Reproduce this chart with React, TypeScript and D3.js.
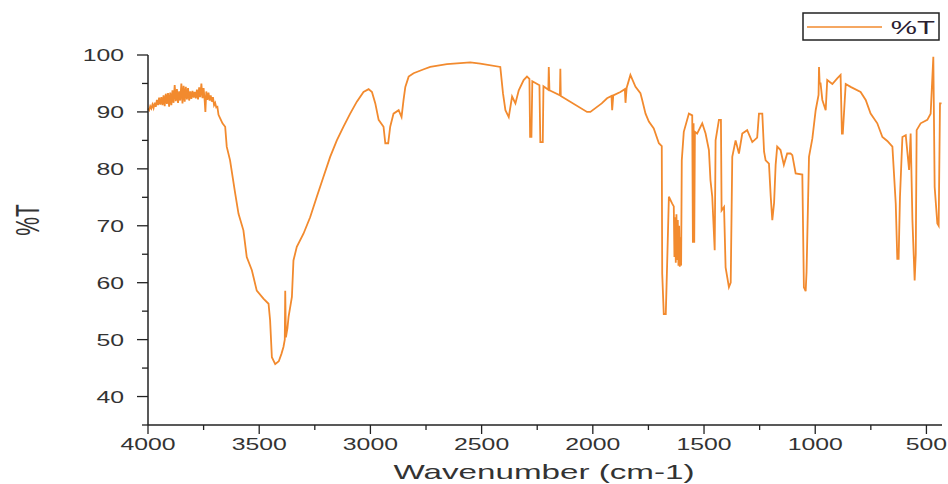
import React, { useEffect, useRef } from 'react';
import * as d3 from 'd3';

// FTIR spectrum
const wavenumbers = [
  4000, 3995, 3990, 3985, 3980, 3975, 3970, 3965, 3960, 3955, 3950, 3945, 3940, 3935, 3930, 3925,
  3920, 3915, 3910, 3905, 3900, 3895, 3890, 3885, 3880, 3875, 3870, 3865, 3860, 3855, 3850, 3845,
  3840, 3835, 3830, 3825, 3820, 3815, 3810, 3805, 3800, 3795, 3790, 3785, 3780, 3775, 3770, 3765,
  3760, 3755, 3750, 3745, 3742, 3738, 3733, 3728, 3723, 3718, 3713, 3708, 3703, 3698, 3693, 3688,
  3683, 3676, 3665, 3653,
  3646, 3631, 3608, 3593, 3571, 3556, 3533, 3511, 3481, 3458, 3451, 3443, 3428, 3412, 3400, 3391,
  3385, 3383, 3380, 3373, 3368, 3353, 3346, 3331, 3301, 3271, 3241, 3211, 3181, 3151, 3121, 3091,
  3061, 3031, 3008, 2993, 2978, 2963, 2941, 2933, 2920, 2911, 2896, 2873, 2860, 2851, 2843, 2828,
  2806, 2760, 2731, 2656, 2551, 2506, 2416, 2404, 2393, 2378, 2363, 2348, 2333, 2311, 2296, 2285,
  2282, 2276, 2272, 2240, 2236, 2225, 2222, 2200, 2198, 2195, 2148, 2146, 2144, 2026, 2011, 1960,
  1936, 1916, 1913, 1908, 1876, 1856, 1853, 1848, 1831, 1808, 1786, 1778, 1763, 1748, 1726, 1703,
  1690, 1688, 1681, 1672, 1666, 1658, 1643, 1636, 1633, 1630, 1627, 1624, 1621, 1618, 1615, 1612,
  1609, 1606, 1603, 1600, 1591, 1568,
  1553, 1550, 1547, 1544, 1541, 1531, 1508, 1493, 1478, 1471, 1463, 1452, 1448, 1433, 1424, 1421,
  1410, 1403, 1388, 1380, 1373, 1358, 1343, 1328, 1306, 1283, 1261, 1253, 1238, 1230, 1223, 1208,
  1200, 1193, 1185, 1178, 1171, 1156, 1141, 1126, 1111, 1103, 1088, 1058, 1051, 1043, 1039, 1028,
  1013, 998, 985, 983, 980, 976, 968, 953, 946, 923, 901, 886, 880, 876, 863, 841,
  796, 773, 751, 721, 698, 676, 653, 638, 631, 625, 619, 608, 593, 578, 571, 563,
  553, 548, 544, 526, 496, 481, 469, 463, 451, 445, 439, 432,
];
const transmittance = [
  90.6, 90.3, 91.0, 90.6, 91.3, 90.7, 91.6, 90.9, 92.1, 91.2, 92.5, 91.3, 92.6, 91.2, 92.9, 91.0,
  93.2, 91.4, 93.3, 90.9, 93.4, 91.2, 93.8, 91.6, 94.7, 91.9, 94.0, 91.6, 93.6, 92.0, 95.0, 91.5,
  94.6, 91.8, 94.4, 92.2, 94.2, 92.0, 93.6, 92.3, 93.7, 92.5, 93.5, 92.4, 93.9, 92.2, 94.3, 92.6,
  95.0, 92.4, 94.2, 91.9, 90.0, 93.6, 92.1, 93.4, 92.0, 92.9, 91.8, 92.6, 91.2, 91.6, 90.8, 90.9,
  89.5, 88.9, 88.0, 87.4,
  83.9, 81.5, 75.7, 72.1, 69.2, 64.5, 62.2, 58.6, 57.2, 56.3, 53.4, 46.9, 45.7, 46.2, 47.5, 48.7,
  50.0, 58.6, 50.4, 52.0, 54.0, 57.5, 63.9, 66.3, 68.6, 71.5, 75.1, 78.6, 82.1, 85.0, 87.4, 89.7,
  91.8, 93.5, 94.0, 93.5, 91.5, 88.6, 87.4, 84.5, 84.5, 87.4, 89.7, 90.3, 89.1, 92.1, 94.4, 96.2,
  96.8, 97.5, 97.9, 98.4, 98.7, 98.5, 97.9, 93.3, 90.3, 89.1, 92.7, 91.5, 93.8, 95.6, 96.2, 95.8,
  85.6, 85.6, 95.4, 94.7, 84.7, 84.7, 94.5, 93.9, 97.9, 93.8, 92.9, 97.6, 92.8, 90.0, 90.0, 91.5,
  92.4, 92.8, 90.3, 92.9, 93.5, 94.0, 91.6, 94.2, 96.5, 94.4, 93.3, 92.1, 89.7, 88.3, 87.1, 84.5,
  84.0, 61.6, 54.5, 54.5, 63.0, 75.1, 73.9, 73.4, 64.5, 71.5, 63.5, 72.0, 64.0, 71.0, 63.0, 70.0,
  62.8, 68.0, 63.0, 81.5, 86.5, 89.7,
  89.4, 67.0, 88.0, 67.0, 86.5, 86.2, 88.0, 86.2, 83.3, 78.0, 75.1, 65.7, 85.0, 88.6, 88.6, 72.7,
  73.3, 62.7, 59.2, 60.0, 82.1, 85.0, 82.7, 86.2, 86.8, 84.7, 85.5, 89.7, 89.7, 83.0, 81.5, 80.9,
  75.1, 71.0, 74.0, 80.7, 83.9, 83.3, 80.7, 82.7, 82.7, 82.4, 79.2, 79.0, 59.2, 58.5, 61.9, 82.1,
  85.3, 90.3, 93.0, 97.9, 95.0, 95.0, 92.1, 90.3, 95.6, 94.9, 95.9, 96.5, 86.2, 86.2, 94.9, 94.4,
  93.5, 92.1, 89.7, 88.0, 85.6, 84.9, 83.9, 73.9, 64.2, 64.2, 75.0, 85.6, 85.9, 79.8, 86.2, 71.0,
  60.4, 65.0, 86.8, 88.0, 88.6, 89.7, 99.7, 76.8, 70.4, 70.0, 91.5, 91.5,
];

const xMajorTicks = [4000, 3500, 3000, 2500, 2000, 1500, 1000, 500];
const xMinorTicks = [3750, 3250, 2750, 2250, 1750, 1250, 750];
const yMajorTicks = [40, 50, 60, 70, 80, 90, 100];
const yMinorTicks = [35, 45, 55, 65, 75, 85, 95];

const seriesName = '%T';
const xTitle = 'Wavenumber (cm-1)';
const yTitle = '%T';

const App = () => {
  const svgRef = useRef<SVGSVGElement>(null);

  useEffect(() => {
    const svg = d3.select(svgRef.current);
    svg.selectAll('*').remove();

    const width = 948;
    const height = 484;
    const margin = { top: 55, right: 6, bottom: 59, left: 148 };
    const stretch = 1.55; // text in the picture is stretched sideways
    const font = "'Liberation Sans', Arial, sans-serif";
    const orange = '#f28a2e';

    const x = d3.scaleLinear().domain([4000, 430]).range([margin.left, width - margin.right]);
    const y = d3.scaleLinear().domain([35, 100]).range([height - margin.bottom, margin.top]);

    const data = wavenumbers.map((w, i) => ({ w, t: transmittance[i] }));

    // spectrum
    const line = d3.line<{ w: number; t: number }>().x(d => x(d.w)).y(d => y(d.t));
    svg.append('path')
      .datum(data)
      .attr('d', line)
      .attr('fill', 'none')
      .attr('stroke', orange)
      .attr('stroke-width', 1.8)
      .attr('stroke-linejoin', 'miter');

    // axes lines
    const axisColor = '#222';
    svg.append('line')
      .attr('x1', margin.left).attr('x2', margin.left)
      .attr('y1', y(100)).attr('y2', y(35))
      .attr('stroke', axisColor).attr('stroke-width', 1.5);
    svg.append('line')
      .attr('x1', margin.left).attr('x2', x(430))
      .attr('y1', y(35)).attr('y2', y(35))
      .attr('stroke', axisColor).attr('stroke-width', 1.5);

    // y ticks
    svg.selectAll('.ymaj').data(yMajorTicks).enter().append('line')
      .attr('x1', margin.left - 11).attr('x2', margin.left)
      .attr('y1', d => y(d)).attr('y2', d => y(d))
      .attr('stroke', axisColor).attr('stroke-width', 1.3);
    svg.selectAll('.ymin').data(yMinorTicks).enter().append('line')
      .attr('x1', margin.left - 6).attr('x2', margin.left)
      .attr('y1', d => y(d)).attr('y2', d => y(d))
      .attr('stroke', axisColor).attr('stroke-width', 1.3);
    svg.selectAll('.ylab').data(yMajorTicks).enter().append('text')
      .attr('transform', d => `translate(${margin.left - 24},${y(d) + 6}) scale(${stretch},1)`)
      .attr('text-anchor', 'end')
      .attr('font-family', font)
      .attr('font-size', 16)
      .attr('fill', '#333')
      .text(d => d);

    // x ticks
    const xb = y(35);
    svg.selectAll('.xmaj').data(xMajorTicks).enter().append('line')
      .attr('x1', d => x(d)).attr('x2', d => x(d))
      .attr('y1', xb).attr('y2', xb + 9)
      .attr('stroke', axisColor).attr('stroke-width', 1.3);
    svg.selectAll('.xmin').data(xMinorTicks).enter().append('line')
      .attr('x1', d => x(d)).attr('x2', d => x(d))
      .attr('y1', xb).attr('y2', xb + 5)
      .attr('stroke', axisColor).attr('stroke-width', 1.3);
    svg.selectAll('.xlab').data(xMajorTicks).enter().append('text')
      .attr('transform', d => `translate(${x(d)},${xb + 25}) scale(${stretch},1)`)
      .attr('text-anchor', 'middle')
      .attr('font-family', font)
      .attr('font-size', 16)
      .attr('fill', '#333')
      .text(d => d);

    // axis titles
    svg.append('text')
      .attr('transform', `translate(${(393 + 695) / 2},479) scale(1.66,1)`)
      .attr('text-anchor', 'middle')
      .attr('font-family', font)
      .attr('font-size', 20)
      .attr('fill', '#333')
      .text(xTitle);
    svg.append('text')
      .attr('transform', `translate(39,220) scale(${stretch},1) rotate(-90)`)
      .attr('text-anchor', 'middle')
      .attr('font-family', font)
      .attr('font-size', 21)
      .attr('fill', '#333')
      .text(yTitle);

    // legend
    svg.append('rect')
      .attr('x', 803).attr('y', 13).attr('width', 136).attr('height', 27)
      .attr('fill', 'white').attr('stroke', '#222').attr('stroke-width', 1.5);
    svg.append('line')
      .attr('x1', 807).attr('x2', 882).attr('y1', 27).attr('y2', 27)
      .attr('stroke', orange).attr('stroke-width', 1.5);
    svg.append('text')
      .attr('transform', `translate(935,34) scale(${stretch},1)`)
      .attr('text-anchor', 'end')
      .attr('font-family', font)
      .attr('font-size', 19)
      .attr('fill', '#2a2030')
      .text(seriesName);
  }, []);

  return (
    <div style={{ position: 'absolute', left: 0, top: 0 }}>
      <svg ref={svgRef} width={948} height={484} style={{ display: 'block', background: 'white' }} />
    </div>
  );
};

export default App;
